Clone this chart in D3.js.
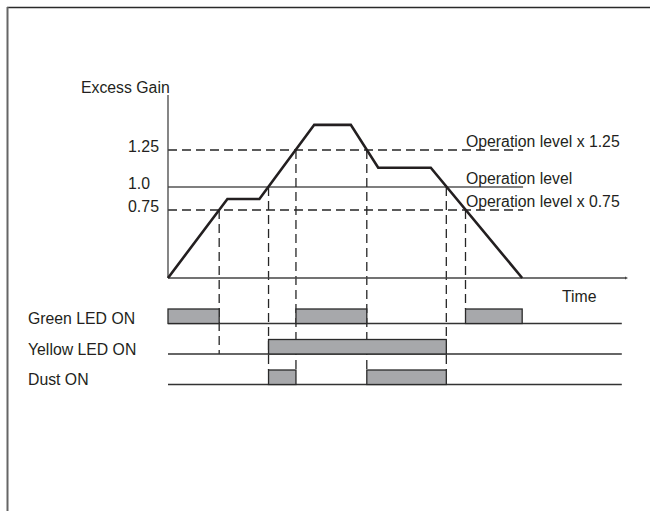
<!DOCTYPE html>
<html>
<head>
<meta charset="utf-8">
<script src="https://cdn.jsdelivr.net/npm/d3@7"></script>
<style>
  html, body { margin: 0; padding: 0; background: #fff; }
  svg { display: block; }
  text { font-family: "Liberation Sans", Arial, Helvetica, sans-serif; fill: #231f20; }
</style>
</head>
<body>
<script>
// ---- data ----
// Excess gain curve (time in arbitrary units 0..100, gain relative to operation level)
const gainTimes  = [0, 13, 20, 32, 40, 46, 57.5, 77.5];
const gainValues = [0, 0.87, 0.87, 1.42, 1.42, 1.13, 1.13, 0];

// reference levels
const levelValues = [1.25, 1.0, 0.75];
const levelTicks  = ["1.25", "1.0", "0.75"];
const levelNames  = ["Operation level x 1.25", "Operation level", "Operation level x 0.75"];
const levelDashed = [true, false, true];

// crossing markers: time, level, row the guide runs down to, edge of that row
const guideTimes  = [11.2, 22.0, 28.0, 43.5, 60.9, 65.1];
const guideLevels = [0.75, 1.0, 1.25, 1.25, 1.0, 0.75];
const guideRow    = ["Yellow LED ON", "Dust ON", "Dust ON", "Dust ON", "Dust ON", "Green LED ON"];
const guideEdge   = ["base", "top", "top", "top", "top", "top"];

// output states
const rows = ["Green LED ON", "Yellow LED ON", "Dust ON"];
const greenOn  = [[0, 11.2], [28, 43.5], [65.1, 77.5]];
const yellowOn = [[22, 60.9]];
const dustOn   = [[22, 28], [43.5, 60.9]];

const levelEnd = 77.7;   // reference lines end (time units)
const rowEnd   = 99.3;   // state rows end (time units)

// ---- drawing ----
const W = 650, H = 511;
const FS = 15.8;
const svg = d3.select("body").append("svg").attr("width", W).attr("height", H);

// frame (top and left edges visible)
svg.append("line").attr("x1", 7).attr("y1", 7.5).attr("x2", W).attr("y2", 7.5)
  .attr("stroke", "#2a2a2a").attr("stroke-width", 1.6);
svg.append("line").attr("x1", 7.5).attr("y1", 7).attr("x2", 7.5).attr("y2", H)
  .attr("stroke", "#666").attr("stroke-width", 2);

const x = d3.scaleLinear().domain([0, 100]).range([168, 625]);
const y = d3.scaleLinear().domain([0, 0.75, 1, 1.25, 1.5]).range([278, 210, 187, 150, 113]);
const rowY = d3.scalePoint().domain(rows).range([323.5, 384.5]);
const boxH = 14.5;

// reference level lines
levelValues.forEach((v, i) => {
  svg.append("line")
    .attr("x1", x(0)).attr("x2", x(levelEnd))
    .attr("y1", y(v)).attr("y2", y(v))
    .attr("stroke", levelDashed[i] ? "#262626" : "#555")
    .attr("stroke-width", levelDashed[i] ? 1.3 : 1.4)
    .attr("stroke-dasharray", levelDashed[i] ? "9,5" : null);
  svg.append("text")
    .attr("x", 128).attr("y", y(v) + 2)
    .attr("font-size", FS)
    .attr("textLength", levelTicks[i].length === 4 ? 31 : null)
    .attr("lengthAdjust", "spacingAndGlyphs")
    .text(levelTicks[i]);
  svg.append("text")
    .attr("x", 466).attr("y", y(v) - 3.5)
    .attr("font-size", FS)
    .text(levelNames[i]);
});

// guide lines
guideTimes.forEach((t, i) => {
  const bottom = guideEdge[i] === "top" ? rowY(guideRow[i]) - boxH : rowY(guideRow[i]);
  svg.append("line")
    .attr("x1", x(t)).attr("x2", x(t))
    .attr("y1", y(guideLevels[i])).attr("y2", bottom)
    .attr("stroke", "#262626").attr("stroke-width", 1.3)
    .attr("stroke-dasharray", "9,5");
});

// axes
svg.append("line").attr("x1", x(0)).attr("x2", x(0)).attr("y1", 95).attr("y2", y(0))
  .attr("stroke", "#444").attr("stroke-width", 1.3);
svg.append("line").attr("x1", x(0)).attr("x2", x(100)).attr("y1", y(0)).attr("y2", y(0))
  .attr("stroke", "#444").attr("stroke-width", 1.3);
svg.append("path")
  .attr("d", `M${x(100)},${y(0) - 1.5}L${x(100) + 3},${y(0)}L${x(100)},${y(0) + 1.5}Z`)
  .attr("fill", "#444");
svg.append("text").attr("x", 81).attr("y", 93).attr("font-size", FS).text("Excess Gain");
svg.append("text").attr("x", 562).attr("y", 302).attr("font-size", FS).text("Time");

// gain curve
const line = d3.line().x(d => x(d[0])).y(d => y(d[1]));
svg.append("path")
  .datum(d3.zip(gainTimes, gainValues))
  .attr("d", line)
  .attr("fill", "none")
  .attr("stroke", "#231f20")
  .attr("stroke-width", 2.6)
  .attr("stroke-linejoin", "miter");

// state rows
const states = [greenOn, yellowOn, dustOn];
rows.forEach((r, i) => {
  const by = rowY(r);
  svg.append("line").attr("x1", x(0)).attr("x2", x(rowEnd)).attr("y1", by).attr("y2", by)
    .attr("stroke", "#333").attr("stroke-width", 1.3);
  svg.selectAll(null).data(states[i]).enter().append("rect")
    .attr("x", d => x(d[0])).attr("width", d => x(d[1]) - x(d[0]))
    .attr("y", by - boxH).attr("height", boxH)
    .attr("fill", "#a7a8ab").attr("stroke", "#2a2a2a").attr("stroke-width", 1.3);
  svg.append("text").attr("x", 28).attr("y", by + 0.5).attr("font-size", FS).text(r);
});
</script>
</body>
</html>
